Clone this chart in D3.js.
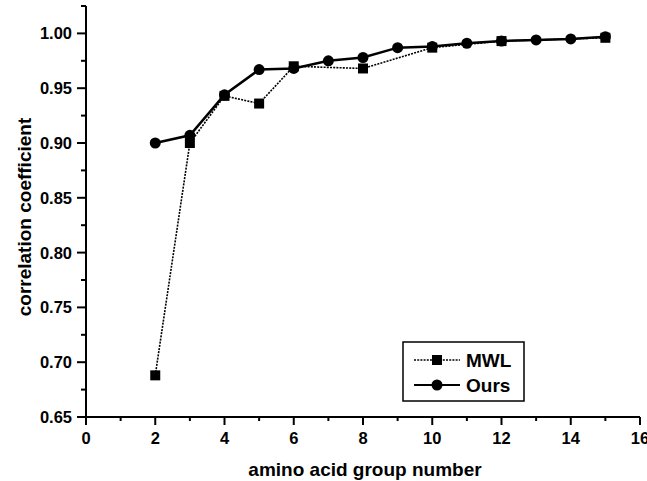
<!DOCTYPE html>
<html>
<head>
<meta charset="utf-8">
<script src="https://cdn.jsdelivr.net/npm/d3@7"></script>
<style>
  body { margin: 0; background: #fff; }
  text { font-family: "Liberation Sans", Arial, Helvetica, sans-serif; font-weight: bold; fill: #000; }
</style>
</head>
<body>
<svg id="chart" width="647" height="481"></svg>
<script>
// values
var mwlX = [2, 3, 4, 5, 6, 8, 10, 12, 15];
var mwlY = [0.688, 0.900, 0.943, 0.936, 0.970, 0.968, 0.987, 0.993, 0.996];
var oursX = [2, 3, 4, 5, 6, 7, 8, 9, 10, 11, 12, 13, 14, 15];
var oursY = [0.900, 0.907, 0.944, 0.967, 0.968, 0.975, 0.978, 0.987, 0.988, 0.991, 0.993, 0.994, 0.995, 0.997];
var xTicks = [0, 2, 4, 6, 8, 10, 12, 14, 16];
var yTicks = [0.65, 0.70, 0.75, 0.80, 0.85, 0.90, 0.95, 1.00];

var svg = d3.select("#chart");
var mLeft = 86, mRight = 640, mTop = 6, mBottom = 417;

var x = d3.scaleLinear().domain([0, 16]).range([mLeft, mRight]);
var y = d3.scaleLinear().domain([0.65, 1.025]).range([mBottom, mTop]);

// y axis
var yAxis = svg.append("g").attr("transform", "translate(" + mLeft + ",0)");
yAxis.append("line").attr("y1", y(0.65)).attr("y2", y(1.025)).attr("stroke", "#000").attr("stroke-width", 2);
yAxis.selectAll(".maj").data(yTicks).enter().append("line")
  .attr("x1", -9).attr("x2", 0)
  .attr("y1", function(d) { return y(d); }).attr("y2", function(d) { return y(d); })
  .attr("stroke", "#000").attr("stroke-width", 2);
yAxis.selectAll(".min").data(d3.range(0.675, 1.03, 0.05)).enter().append("line")
  .attr("x1", -5).attr("x2", 0)
  .attr("y1", function(d) { return y(d); }).attr("y2", function(d) { return y(d); })
  .attr("stroke", "#000").attr("stroke-width", 2);
yAxis.selectAll("text").data(yTicks).enter().append("text")
  .attr("x", -14).attr("y", function(d) { return y(d) + 6; })
  .attr("text-anchor", "end").style("font-size", "16.5px")
  .text(function(d) { return d.toFixed(2); });

// x axis
var xAxis = svg.append("g").attr("transform", "translate(0," + mBottom + ")");
xAxis.append("line").attr("x1", x(0)).attr("x2", x(16)).attr("stroke", "#000").attr("stroke-width", 2);
xAxis.selectAll(".maj").data(xTicks).enter().append("line")
  .attr("x1", function(d) { return x(d); }).attr("x2", function(d) { return x(d); })
  .attr("y1", 0).attr("y2", 8)
  .attr("stroke", "#000").attr("stroke-width", 2);
xAxis.selectAll(".min").data(d3.range(1, 16, 2)).enter().append("line")
  .attr("x1", function(d) { return x(d); }).attr("x2", function(d) { return x(d); })
  .attr("y1", 0).attr("y2", 4)
  .attr("stroke", "#000").attr("stroke-width", 2);
xAxis.selectAll("text").data(xTicks).enter().append("text")
  .attr("x", function(d) { return x(d); }).attr("y", 27)
  .attr("text-anchor", "middle").style("font-size", "16.5px")
  .text(function(d) { return d; });

// axis titles
svg.append("text").attr("x", 365).attr("y", 476).attr("text-anchor", "middle")
  .style("font-size", "19px").text("amino acid group number");
svg.append("text").attr("transform", "translate(31,217) rotate(-90)").attr("text-anchor", "middle")
  .style("font-size", "19px").text("correlation coefficient");

var line = d3.line().x(function(d) { return x(d[0]); }).y(function(d) { return y(d[1]); });
var mwl = d3.zip(mwlX, mwlY);
var ours = d3.zip(oursX, oursY);

svg.append("path").datum(mwl).attr("d", line).attr("fill", "none")
  .attr("stroke", "#000").attr("stroke-width", 1.6).attr("stroke-dasharray", "2,1.2");
svg.append("path").datum(ours).attr("d", line).attr("fill", "none")
  .attr("stroke", "#000").attr("stroke-width", 2.5);

svg.selectAll(".sq").data(mwl).enter().append("rect")
  .attr("x", function(d) { return x(d[0]) - 5; }).attr("y", function(d) { return y(d[1]) - 5; })
  .attr("width", 10).attr("height", 10).attr("fill", "#000");
svg.selectAll(".dot").data(ours).enter().append("circle")
  .attr("cx", function(d) { return x(d[0]); }).attr("cy", function(d) { return y(d[1]); })
  .attr("r", 5.5).attr("fill", "#000");

// legend
var lg = svg.append("g");
lg.append("rect").attr("x", 403).attr("y", 342).attr("width", 121).attr("height", 59)
  .attr("fill", "#fff").attr("stroke", "#000").attr("stroke-width", 1.5);
lg.append("line").attr("x1", 414).attr("x2", 460).attr("y1", 360).attr("y2", 360)
  .attr("stroke", "#000").attr("stroke-width", 1.3).attr("stroke-dasharray", "2,1.2");
lg.append("rect").attr("x", 432).attr("y", 355).attr("width", 10).attr("height", 10).attr("fill", "#000");
lg.append("text").attr("x", 466).attr("y", 367).style("font-size", "19px").text("MWL");
lg.append("line").attr("x1", 414).attr("x2", 460).attr("y1", 385).attr("y2", 385)
  .attr("stroke", "#000").attr("stroke-width", 2.2);
lg.append("circle").attr("cx", 437).attr("cy", 385).attr("r", 5.5).attr("fill", "#000");
lg.append("text").attr("x", 466).attr("y", 392).style("font-size", "19px").text("Ours");
</script>
</body>
</html>
